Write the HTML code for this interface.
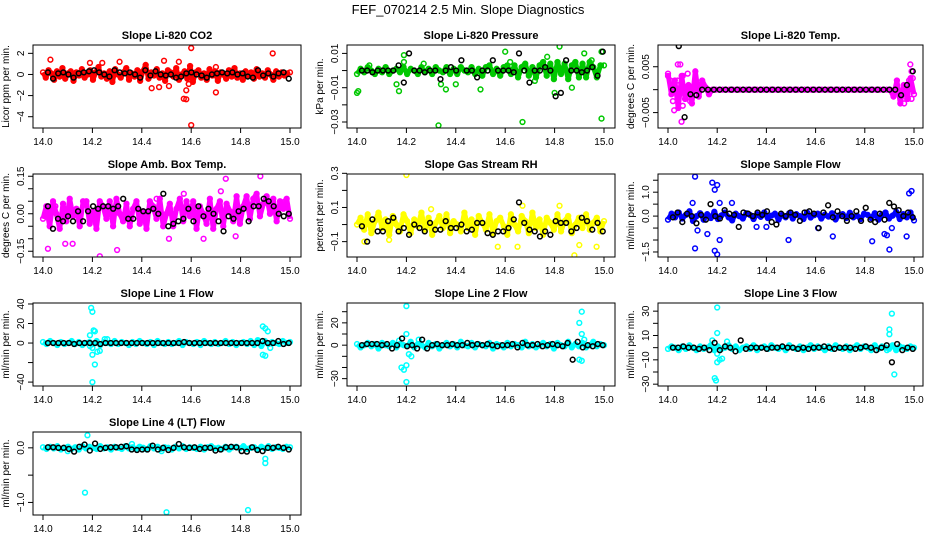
<!DOCTYPE html>
<html><head><meta charset="utf-8"><style>
html,body{margin:0;padding:0;background:#fff;}
svg{display:block;font-family:"Liberation Sans",sans-serif;}
</style></head><body>
<svg id="chart" width="936" height="540" viewBox="0 0 936 540">
<text x="468" y="14" text-anchor="middle" font-size="13">FEF_070214  2.5 Min. Slope Diagnostics</text>
</svg>
<script>
// ---- data (x: time 14.0-15.0; band/black series evenly spaced in time) ----
const co2Band=[0.2,-0.3,0.4,0.1,-0.5,0.3,-0.2,0.6,-0.4,0.1,0.3,-0.6,0.2,-0.1,0.5,-0.3,0.0,0.4,-0.5,0.2,0.7,-0.2,0.1,-0.4,0.3,-0.7,0.5,0.0,-0.3,0.2,0.6,-0.5,0.1,-0.2,0.4,-0.6,0.3,0.9,-0.4,0.2,-0.1,0.5,-0.3,0.1,-0.6,0.4,0.2,-0.2,0.6,-0.5,0.0,0.3,-0.4,0.8,-0.7,0.2,0.4,-0.3,0.1,-0.5,0.5,-0.1,0.3,-0.6,0.2,0.0,-0.4,0.4,-0.2,0.6,-0.3,0.1,-0.5,0.3,-0.1,0.2,-0.4,0.5,-0.2,0.1,-0.3,0.4,0.0,-0.5,0.3,-0.2,0.2,-0.1,0.1,0.2];
const co2OutT=[14.03,14.19,14.24,14.31,14.44,14.47,14.49,14.51,14.55,14.57,14.58,14.58,14.59,14.60,14.60,14.70,14.70,14.93];
const co2OutV=[1.4,1.1,1.1,1.2,-1.3,-1.2,1.3,-1.1,1.2,-2.3,-1.5,-2.35,-0.9,2.5,-4.8,-1.7,0.7,2.0];
const co2Black=[0.2,-0.4,0.1,0.2,0.0,-0.3,0.1,0.2,0.3,0.4,0.2,0.0,-0.2,0.4,0.2,0.1,0.2,0.0,-0.3,0.4,-0.1,0.3,0.0,-0.1,0.0,-0.3,-0.2,0.1,0.2,0.0,-0.1,-0.3,0.0,0.1,0.2,0.1,0.2,0.0,0.1,-0.2,-0.3,0.4,-0.1,0.1,-0.2,0.1,0.2,-0.4];

const presBand=[-0.002,0.001,-0.001,0.002,0.000,-0.002,0.001,-0.001,0.002,-0.002,0.000,0.001,-0.001,0.002,-0.002,0.001,0.000,-0.002,0.002,-0.001,0.001,-0.002,0.002,0.000,-0.001,0.002,-0.002,0.001,-0.002,0.002,0.000,-0.001,0.002,-0.002,0.001,-0.003,0.002,0.003,-0.002,0.001,-0.003,0.002,0.003,-0.002,0.003,-0.004,0.002,0.004,-0.003,0.002,-0.004,0.003,0.005,-0.003,0.004,-0.005,0.005,-0.002,0.004,-0.005,0.003,0.005,-0.004,0.004,-0.004,0.005,0.002,-0.004,0.003,0.003];
const presOutT=[14.0,14.005,14.05,14.16,14.17,14.19,14.19,14.27,14.33,14.34,14.36,14.40,14.50,14.60,14.62,14.67,14.72,14.77,14.80,14.82,14.87,14.92,14.99,14.99,14.95];
const presOutV=[-0.013,-0.012,0.003,-0.008,-0.012,0.009,0.005,0.004,-0.032,-0.008,-0.011,-0.008,-0.011,0.011,0.005,-0.030,-0.006,0.008,-0.013,0.014,-0.010,0.010,-0.028,0.011,0.006];
const presBlack=[0.000,0.000,-0.001,0.000,0.000,0.000,0.000,0.003,-0.007,0.010,0.000,0.000,-0.001,0.000,0.000,-0.005,0.000,0.002,0.000,0.006,0.000,0.000,-0.004,0.000,0.000,0.006,0.000,0.000,0.000,-0.001,0.010,0.000,-0.007,0.000,0.000,0.002,0.000,-0.015,-0.013,0.006,0.000,0.000,-0.001,0.000,0.002,-0.003,0.011];

const tempBand=[0.0035,-0.0010,0.0020,-0.0040,0.0030,-0.0020,0.0010,-0.0030,0.0040,-0.0015,0.0020,0.0005,-0.0010,0.0,0.0,0.0,0.0,0.0,0.0,0.0,0.0,0.0,0.0,0.0,0.0,0.0,0.0,0.0,0.0,0.0,0.0,0.0,0.0,0.0,0.0,0.0,0.0,0.0,0.0,0.0,0.0,0.0,0.0,0.0,0.0,0.0,0.0,0.0,0.0,0.0,0.0,0.0,0.0,0.0,0.0,0.0,0.0,0.0,0.0,0.0,0.0,0.0,0.0,0.0,0.0,0.0,-0.0015,0.0020,-0.0030,0.0010,-0.0020,0.0025,-0.0010];
const tempOutT=[14.00,14.01,14.02,14.025,14.04,14.05,14.055,14.06,14.07,14.08,14.09,14.04,14.06,14.96,14.97,14.98,14.985,14.99,14.995,14.99,14.975];
const tempOutV=[0.003,0.002,-0.0025,-0.0045,0.002,0.0055,-0.0070,0.0030,-0.0020,0.0035,-0.0025,0.0055,-0.0035,-0.0030,0.0010,0.0020,0.0055,0.0040,0.0025,-0.0020,-0.0020];
const tempBlack=[0.0,0.0095,-0.006,-0.001,-0.0012,0.0,0.0,0.0,0.0,0.0,0.0,0.0,0.0,0.0,0.0,0.0,0.0,0.0,0.0,0.0,0.0,0.0,0.0,0.0,0.0,0.0,0.0,0.0,0.0,0.0,0.0,0.0,0.0,0.0,0.0,0.0,0.0,0.0,0.0,-0.0012,0.001,0.004];

const boxBand=[-0.02,0.03,-0.05,0.05,0.00,-0.06,0.04,-0.03,0.06,-0.01,0.02,-0.05,0.05,0.05,-0.04,0.01,-0.06,0.05,0.03,-0.02,0.05,-0.05,0.06,0.00,-0.03,0.04,-0.05,0.02,0.05,-0.04,0.01,-0.06,0.05,0.03,-0.02,0.06,-0.05,0.00,0.04,-0.05,0.02,0.06,-0.03,0.05,-0.01,0.05,-0.06,0.03,0.00,-0.04,0.06,-0.06,0.02,0.05,-0.05,0.04,0.01,-0.03,0.07,-0.04,0.03,0.07,-0.02,0.06,0.08,-0.01,0.04,0.07,0.00,0.06,-0.03,0.05,0.02,0.06,-0.02];
const boxOutT=[14.02,14.12,14.23,14.30,14.51,14.74,14.88,14.05,14.78,14.72,14.57,14.46,14.09,14.65,14.98];
const boxOutV=[-0.14,-0.12,-0.17,-0.145,-0.10,0.14,0.15,0.03,-0.09,0.09,0.08,0.06,-0.12,-0.10,0.05];
const boxBlack=[0.03,-0.06,-0.02,-0.03,-0.01,-0.03,0.01,-0.03,0.01,0.03,0.02,0.03,0.03,0.02,0.03,0.06,-0.02,-0.02,0.02,0.01,0.01,0.02,0.00,0.08,-0.05,-0.04,-0.03,-0.02,0.02,-0.03,0.03,-0.01,0.02,0.00,-0.03,-0.07,-0.01,-0.02,0.01,0.02,-0.03,0.03,0.03,0.06,0.05,0.03,0.00,-0.01,0.00];

const rhBand=[0.00,0.04,-0.03,0.06,-0.05,0.02,0.07,-0.02,0.03,-0.06,0.05,0.00,-0.04,0.06,0.02,-0.05,0.03,-0.01,0.07,-0.03,0.04,-0.06,0.01,0.05,-0.02,0.06,-0.05,0.02,0.00,-0.04,0.07,-0.02,0.03,-0.06,0.05,0.01,-0.03,0.06,-0.05,0.02,0.04,-0.01,-0.06,0.06,0.00,-0.04,0.05,0.02,-0.05,0.07,-0.02,0.03,-0.06,0.04,0.01,-0.03,0.06,-0.04,0.02,0.05,-0.05,0.00,0.04,-0.02,0.06,-0.03,0.01,0.04,-0.04,0.02];
const rhOutT=[14.20,14.88,14.03,14.67,14.82,14.57,14.65,14.97,14.90,14.13,14.30];
const rhOutV=[0.29,-0.18,-0.10,0.11,0.11,-0.13,-0.13,-0.13,-0.12,-0.09,0.09];
const rhBlack=[-0.01,-0.10,0.03,-0.04,-0.04,0.02,0.04,-0.04,-0.02,-0.06,0.00,-0.02,-0.04,0.01,-0.03,-0.03,0.02,-0.02,-0.02,0.00,-0.04,-0.03,0.01,0.01,-0.05,-0.06,-0.04,-0.04,-0.02,0.03,0.13,0.01,-0.03,-0.04,-0.07,-0.04,-0.06,0.02,0.01,0.01,-0.04,-0.02,0.04,0.02,-0.03,0.01,-0.04];

const flowBand=[-0.15,0.10,-0.05,0.15,-0.10,0.05,0.20,-0.20,0.00,0.12,-0.15,0.08,-0.08,0.18,-0.12,0.03,0.15,-0.05,-0.18,0.10,0.00,-0.10,0.12,0.05,-0.12,0.08,-0.03,0.15,-0.08,0.02,0.10,-0.15,0.05,-0.05,0.12,-0.10,0.08,0.00,-0.12,0.15,-0.06,0.04,0.10,-0.10,0.06,-0.02,0.12,-0.14,0.03,0.08,-0.08,0.14,-0.05,0.02,-0.12,0.10,0.05,-0.08,0.12,-0.15,0.06,0.15,-0.10,0.02,0.18,-0.12,0.08,-0.05,0.15,-0.18];
const flowOutT=[14.11,14.18,14.19,14.20,14.11,14.19,14.20,14.21,14.16,14.12,14.49,14.67,14.83,14.90,14.89,14.88,14.97,14.99,14.98,14.10,14.21,14.26,14.36,14.40,14.61,14.91];
const flowOutV=[1.65,1.40,1.10,1.30,-1.35,-1.45,-1.60,-1.00,-0.75,-0.60,-1.00,-0.85,-1.05,-1.40,-0.80,-0.75,-0.85,1.05,0.95,0.55,0.55,0.55,-0.45,-0.45,-0.50,-0.50];
const flowBlack=[-0.05,0.15,-0.25,0.10,0.00,-0.30,0.05,-0.15,0.50,0.00,-0.10,0.25,0.10,0.05,-0.45,0.15,0.10,0.00,0.15,0.05,0.20,-0.25,-0.35,0.10,0.00,0.15,0.05,-0.20,0.15,0.20,0.10,-0.50,0.15,0.45,-0.05,0.20,0.00,-0.20,0.00,0.20,-0.20,0.35,-0.15,-0.25,0.10,-0.15,0.55,0.40,0.25,0.00,0.15,-0.05];

const l1Band=[1,-1,2,0,-2,1,-1,0,2,-1,1,-2,0,1,-1,2,-2,1,0,-1,2,-1,1,0,-2,1,-1,2,0,-1,1,-2,2,0,-1,1,-1,0,2,-2,1,0,-1,1,-2,2,0,-1,1,-1,0,2,-1,1,-2,0,1,-1,2,-2,3,-3,2,-1,1,0,-1,2,0,1];
const l1OutT=[14.195,14.20,14.21,14.205,14.19,14.20,14.20,14.21,14.20,14.22,14.23,14.19,14.89,14.90,14.91,14.89,14.90,14.92,14.25,14.26];
const l1OutV=[36,32,12,13,8,-5,-12,-22,-40,-9,-8,-3,17,15,12,-12,-13,-5,4,4];
const l1Black=[0,0,0,0,0,-1,0,0,0,0,-1,0,0,0,0,0,0,0,0,0,0,0,0,0,0,0,1,0,0,0,0,0,0,0,0,0,0,0,0,0,0,2,0,0,2,-1,0];

const l2Band=[1,-2,0,2,-1,1,-3,2,0,-1,2,-2,1,0,-1,3,-2,1,0,-2,2,-1,1,-3,0,2,-1,1,-2,3,0,-1,2,-2,1,0,-1,2,-3,1,0,-2,2,-1,1,0,-2,3,-1,1,-2,0,2,-1,1,-3,2,0,-1,3,-2,1,-1,2,-2,0,3,-1,1,0];
const l2OutT=[14.20,14.20,14.18,14.19,14.20,14.20,14.21,14.22,14.17,14.90,14.91,14.91,14.90,14.91,14.92,14.25];
const l2OutV=[35,-33,-20,-22,-18,10,-8,-10,4,20,30,10,-13,-14,5,5];
const l2Black=[0,1,1,1,0,1,-3,0,6,-1,0,-3,5,-3,0,1,0,0,1,0,0,2,0,1,0,1,0,-1,0,0,1,-2,2,0,0,1,-1,0,1,0,-1,2,-13,3,-2,0,-1,1,0];

const l3Band=[-1,1,0,-2,1,-1,2,0,-2,1,-1,0,2,-2,1,-1,0,2,-1,1,-2,0,1,-1,2,-2,0,1,-1,2,0,-1,1,-2,2,0,-1,1,-2,0,2,-1,1,0,-2,1,-1,2,0,-1,1,-2,0,2,-1,1,0,-2,2,-1,1,0,-1,2,-2,1,0,-1,1,0];
const l3OutT=[14.20,14.20,14.18,14.20,14.19,14.195,14.21,14.22,14.20,14.90,14.90,14.91,14.92,14.89,14.24];
const l3OutV=[33,12,6,-12,-25,-27,-10,-9,-5,15,11,28,-22,-2,5];
const l3Black=[0,0,1,0,0,-1,0,-2,4,-2,1,0,-3,6,-1,0,0,0,-1,0,0,1,0,0,-1,0,-1,0,0,1,0,-1,0,0,0,-1,0,1,0,-2,0,2,-12,3,-2,0,-1];

const l4Band=[0.01,-0.02,0.02,-0.01,0.03,-0.03,0.00,0.02,-0.02,0.01,-0.03,0.03,-0.01,0.02,0.00,-0.02,0.03,-0.01,0.01,-0.03,0.02,0.00,-0.02,0.03,-0.01,0.01,-0.02,0.02,0.00,-0.03,0.03,-0.01,0.02,-0.02,0.01,0.00,-0.03,0.02,-0.01,0.03,-0.02,0.01,0.00,-0.02,0.02,-0.03,0.01,0.03,-0.01,0.00,-0.02,0.02,-0.03,0.01,0.02,-0.01,0.03,-0.02,0.00,0.01,-0.03,0.02,-0.01,0.03,-0.02,0.01,0.00,-0.02,0.02,0.01];
const l4OutT=[14.17,14.18,14.50,14.83,14.90,14.90,14.36,14.10,14.48];
const l4OutV=[-0.82,0.23,-1.18,-1.14,-0.28,-0.20,0.07,-0.06,-0.06];
const l4Black=[0.01,0.01,0.00,0.00,-0.02,-0.07,0.02,0.06,-0.05,0.08,-0.02,0.00,0.01,0.01,0.02,0.03,-0.03,-0.04,-0.03,-0.03,0.04,-0.03,0.00,-0.04,0.00,0.07,0.01,0.00,0.01,-0.02,0.00,0.00,-0.05,-0.03,0.01,0.02,0.01,-0.06,-0.07,0.01,-0.04,-0.06,0.00,0.00,0.02,0.00,-0.03];

// ---- tick labels ----
const co2Ticks=[-4,-2,0,2], co2TickLabels=["\u22124","\u22122","0","2"];
const presTicks=[-0.03,-0.02,-0.01,0,0.01], presTickLabels=["\u22120.03","","\u22120.01","","0.01"];
const tempTicks=[-0.005,0,0.005], tempTickLabels=["\u22120.005","","0.005"];
const boxTicks=[-0.15,-0.10,-0.05,0,0.05,0.10,0.15], boxTickLabels=["\u22120.15","","","0.00","","","0.15"];
const rhTicks=[-0.1,0,0.1,0.2,0.3], rhTickLabels=["\u22120.1","","0.1","","0.3"];
const flowTicks=[-1.5,-1,-0.5,0,0.5,1,1.5], flowTickLabels=["\u22121.5","","","0.0","","1.0",""];
const l1Ticks=[-40,-20,0,20,40], l1TickLabels=["\u221240","","0","20","40"];
const l2Ticks=[-30,-20,-10,0,10,20,30], l2TickLabels=["\u221230","","","0","","20",""];
const l3Ticks=[-30,-20,-10,0,10,20,30], l3TickLabels=["\u221230","","\u221210","","10","","30"];
const l4Ticks=[-1,-0.5,0], l4TickLabels=["\u22121.0","","0.0"];
const xTicks=[14.0,14.2,14.4,14.6,14.8,15.0], xTickLabels=["14.0","14.2","14.4","14.6","14.8","15.0"];

const NS="http://www.w3.org/2000/svg";
const svg=document.getElementById('chart');
const colBox=[[33,301],[347,615],[658,923]], colData=[[43,290],[357,604],[668,914]];
const rowTop=[45,174,303,432], H=83;
function mk(tag,attrs,parent){const e=document.createElementNS(NS,tag);for(const k in attrs)e.setAttribute(k,attrs[k]);(parent||svg).appendChild(e);return e;}

const panels=[
 {t:"Slope Li-820 CO2",yl:"Licor ppm per min.",c:"#ff0000",r:0,k:0,ymin:-5.07,ymax:2.79,band:co2Band,ot:co2OutT,ov:co2OutV,blk:co2Black,ticks:co2Ticks,tl:co2TickLabels,n:"co2"},
 {t:"Slope Li-820 Pressure",yl:"kPa per min.",c:"#00c800",r:0,k:1,ymin:-0.0335,ymax:0.0149,band:presBand,ot:presOutT,ov:presOutV,blk:presBlack,ticks:presTicks,tl:presTickLabels,n:"pressure"},
 {t:"Slope Li-820 Temp.",yl:"degrees C per min.",c:"#ff00ff",r:0,k:2,ymin:-0.00836,ymax:0.00974,band:tempBand,ot:tempOutT,ov:tempOutV,blk:tempBlack,ticks:tempTicks,tl:tempTickLabels,n:"li820-temp"},
 {t:"Slope Amb. Box Temp.",yl:"degrees C per min.",c:"#ff00ff",r:1,k:0,ymin:-0.173,ymax:0.159,band:boxBand,ot:boxOutT,ov:boxOutV,blk:boxBlack,ticks:boxTicks,tl:boxTickLabels,n:"box-temp"},
 {t:"Slope Gas Stream RH",yl:"percent per min.",c:"#ffff00",r:1,k:1,ymin:-0.19,ymax:0.296,band:rhBand,ot:rhOutT,ov:rhOutV,blk:rhBlack,ticks:rhTicks,tl:rhTickLabels,n:"rh"},
 {t:"Slope Sample Flow",yl:"ml/min per min.",c:"#0000ff",r:1,k:2,ymin:-1.71,ymax:1.76,band:flowBand,ot:flowOutT,ov:flowOutV,blk:flowBlack,ticks:flowTicks,tl:flowTickLabels,n:"sample-flow"},
 {t:"Slope Line 1 Flow",yl:"ml/min per min.",c:"#00ffff",r:2,k:0,ymin:-44,ymax:41,band:l1Band,ot:l1OutT,ov:l1OutV,blk:l1Black,ticks:l1Ticks,tl:l1TickLabels,n:"line1"},
 {t:"Slope Line 2 Flow",yl:"ml/min per min.",c:"#00ffff",r:2,k:1,ymin:-36.6,ymax:37.8,band:l2Band,ot:l2OutT,ov:l2OutV,blk:l2Black,ticks:l2Ticks,tl:l2TickLabels,n:"line2"},
 {t:"Slope Line 3 Flow",yl:"ml/min per min.",c:"#00ffff",r:2,k:2,ymin:-31.5,ymax:36.7,band:l3Band,ot:l3OutT,ov:l3OutV,blk:l3Black,ticks:l3Ticks,tl:l3TickLabels,n:"line3"},
 {t:"Slope Line 4 (LT) Flow",yl:"ml/min per min.",c:"#00ffff",r:3,k:0,ymin:-1.23,ymax:0.29,band:l4Band,ot:l4OutT,ov:l4OutV,blk:l4Black,ticks:l4Ticks,tl:l4TickLabels,n:"line4"}
];

panels.forEach(p=>{
  const bx0=colBox[p.k][0], bx1=colBox[p.k][1], dx0=colData[p.k][0], dx1=colData[p.k][1];
  const top=rowTop[p.r], bot=top+H;
  const xs=t=>dx0+(t-14)/(15-14)*(dx1-dx0);
  const ys=v=>bot-(v-p.ymin)/(p.ymax-p.ymin)*H;
  const g=mk('g',{});
  
  
  const tt=mk('text',{x:(bx0+bx1)/2,y:top-6,'text-anchor':'middle','font-size':11,'font-weight':'bold'},g);
  tt.textContent=p.t;
  
  
  const cp='clip-'+p.n;
  const cl=mk('clipPath',{id:cp},g); mk('rect',{x:bx0,y:top,width:bx1-bx0,height:H},cl);
  const pts=mk('g',{'clip-path':'url(#'+cp+')',fill:'none','stroke-width':1.5},g);
  
  
  const nb=p.band.length;
  const bandPts=p.band.map((v,i)=>xs(14+i/(nb-1)).toFixed(1)+','+ys(v).toFixed(1)).join(' ');
  const bl=mk('polyline',{points:bandPts,stroke:p.c,'stroke-width':5,'stroke-linejoin':'round',fill:'none'},pts);
  
  
  p.band.forEach((v,i)=>{
    const c=mk('circle',{cx:xs(14+i/(nb-1)),cy:ys(v),r:2.4,stroke:p.c},pts);
    
    
  });
  p.ot.forEach((t,i)=>{
    const c=mk('circle',{cx:xs(t),cy:ys(p.ov[i]),r:2.4,stroke:p.c},pts);
    
    
  });
  const nk=p.blk.length;
  p.blk.forEach((v,i)=>{
    const c=mk('circle',{cx:xs(14.02+0.975*i/(nk-1)),cy:ys(v),r:2.4,stroke:'#000'},pts);
    
    
  });
  const box=mk('rect',{x:bx0,y:top,width:bx1-bx0,height:H,fill:'none',stroke:'#000','stroke-width':1},g);
  
  
  xTicks.forEach((t,i)=>{
    mk('line',{x1:xs(t),x2:xs(t),y1:bot,y2:bot+5,stroke:'#000'},g);
    const l=mk('text',{x:xs(t),y:bot+17,'text-anchor':'middle','font-size':10},g);
    l.textContent=xTickLabels[i];
    
    
  });
  p.ticks.forEach((v,i)=>{
    const y=ys(v);
    mk('line',{x1:bx0-5,x2:bx0,y1:y,y2:y,stroke:'#000'},g);
    if(p.tl[i]){
      const l=mk('text',{x:bx0-9,y:y,'text-anchor':'middle','font-size':10,transform:'rotate(-90 '+(bx0-9)+' '+y+')'},g);
      l.textContent=p.tl[i];
      
      
    }
  });
  const yl=mk('text',{x:bx0-24,y:top+H/2,'text-anchor':'middle','font-size':10,transform:'rotate(-90 '+(bx0-24)+' '+(top+H/2)+')'},g);
  yl.textContent=p.yl;
  
  
});
</script>
</body></html>
